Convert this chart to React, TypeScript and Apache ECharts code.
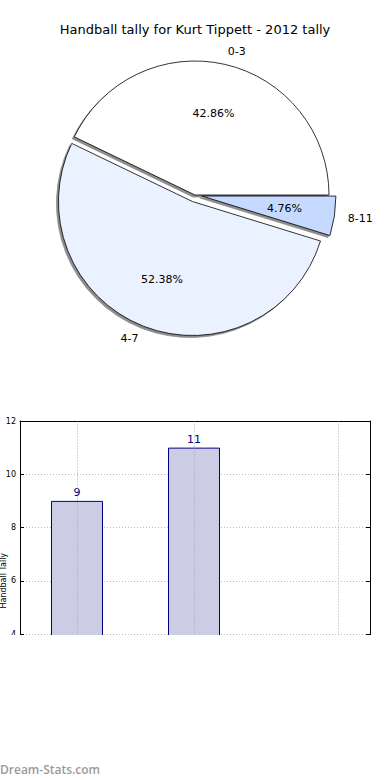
import React, { useEffect, useRef } from 'react';
import * as echarts from 'echarts';

const titleText = 'Handball tally for Kurt Tippett - 2012 tally';
const categories = ['0-3', '4-7', '8-11'];
const tallies = [9, 11, 1];
const sliceColors = ['#ffffff', '#eaf1ff', '#c6d9ff'];
const explodedSlices = [false, true, true];
const barPositions = [0, 1, 2];
const yMin = 0;
const yMax = 12;
const yInterval = 2;
const yVisibleFrom = 4;
const xGridTicks = [0, 1, 2.23];
const yAxisName = 'Handball Tally';
const watermark = 'Dream-Stats.com';

const PIE_R = 134;

export default function App() {
  const ref = useRef<HTMLDivElement>(null);
  useEffect(() => {
    if (!ref.current) return;
    const chart = echarts.init(ref.current, undefined, { renderer: 'svg' });
    const pieBase = {
      type: 'pie',
      center: [195, 195],
      startAngle: 0,
      clockwise: false,
      selectedMode: 'multiple',
      selectedOffset: 7,
      avoidLabelOverlap: false,
      silent: true,
      emphasis: { disabled: true },
    };
    const sliceData = (withColor: boolean) =>
      categories.map((c, i) => ({
        name: c,
        value: tallies[i],
        selected: explodedSlices[i],
        ...(withColor ? { itemStyle: { color: sliceColors[i] } } : {}),
      }));
    // plot area: visible part 421..634 covers values 4..12
    const unitPx = 213 / (yMax - yVisibleFrom);
    const gridHeight = unitPx * (yMax - yMin);
    const option: any = {
      animation: false,
      textStyle: { fontFamily: 'DejaVu Sans' },
      title: {
        text: titleText,
        left: 'center',
        top: 18,
        textStyle: { fontSize: 13, fontWeight: 'normal', color: '#000', fontFamily: 'DejaVu Sans' },
      },
      graphic: [
        {
          type: 'rect',
          z: 100,
          shape: { x: 0, y: 635, width: 390, height: 145 },
          style: { fill: '#fff' },
        },
        {
          type: 'text',
          z: 101,
          left: 0,
          top: 763,
          style: { text: watermark, fill: '#9a9a9a', font: '600 12px "Open Sans"' },
        },
      ],
      grid: { left: 20, right: 20, top: 421, height: gridHeight, outerBoundsMode: 'none', containLabel: false },
      xAxis: {
        type: 'value',
        min: -0.487,
        max: 2.504,
        position: 'top',
        axisLine: { show: true, onZero: false, lineStyle: { color: '#000', width: 1 } },
        axisTick: { show: false },
        axisLabel: { show: false },
        splitLine: { show: false },
      },
      yAxis: [
        {
          type: 'value',
          min: yMin,
          max: yMax,
          interval: yInterval,
          name: yAxisName,
          nameLocation: 'middle',
          nameGap: 13,
          nameMoveOverlap: false,
          nameTextStyle: { fontSize: 8, color: '#000' },
          axisLine: { show: true, onZero: false, lineStyle: { color: '#000', width: 1 } },
          axisTick: { show: true, inside: true, length: 4, lineStyle: { color: '#000' } },
          axisLabel: {
            fontSize: 8,
            color: '#000',
            margin: 4,
            formatter: (v: number) => (v >= yVisibleFrom ? String(v) : ''),
          },
          splitLine: { show: true, lineStyle: { type: [1, 2], color: '#bdbdbd', width: 1 } },
        },
        {
          type: 'value',
          min: yMin,
          max: yMax,
          interval: yInterval,
          position: 'right',
          axisLine: { show: true, onZero: false, lineStyle: { color: '#000', width: 1 } },
          axisTick: { show: true, inside: true, length: 4, lineStyle: { color: '#000' } },
          axisLabel: { show: false },
          splitLine: { show: false },
        },
      ],
      series: [
        {
          ...pieBase,
          radius: PIE_R,
          label: { show: false },
          labelLine: { show: false },
          itemStyle: {
            borderColor: '#000',
            borderWidth: 0.8,
            shadowColor: 'rgba(0,0,0,0.45)',
            shadowOffsetX: -2,
            shadowOffsetY: 2,
            shadowBlur: 1,
          },
          data: sliceData(true),
        },
        {
          ...pieBase,
          radius: [PIE_R * 0.2, PIE_R],
          itemStyle: { color: 'rgba(0,0,0,0)', borderWidth: 0 },
          label: { show: true, position: 'inside', formatter: '{d}%', fontSize: 11, color: '#000' },
          labelLine: { show: false },
          data: sliceData(false),
        },
        {
          ...pieBase,
          radius: PIE_R,
          itemStyle: { color: 'rgba(0,0,0,0)', borderWidth: 0 },
          label: {
            show: true,
            position: 'outside',
            formatter: '{b}',
            fontSize: 11,
            color: '#000',
            distanceToLabelLine: 0,
          },
          labelLine: { show: false, length: PIE_R * 0.1, length2: 0 },
          data: sliceData(false),
        },
        {
          type: 'bar',
          xAxisIndex: 0,
          yAxisIndex: 0,
          barWidth: 52,
          z: 3,
          itemStyle: { color: '#ccccE4', borderColor: '#000080', borderWidth: 1 },
          label: { show: true, position: 'top', color: '#000080', fontSize: 11, distance: 3 },
          data: barPositions.map((x, i) => ({
            value: [x, tallies[i]],
            label: { show: tallies[i] >= yVisibleFrom },
          })),
        },
        {
          type: 'line',
          xAxisIndex: 0,
          yAxisIndex: 0,
          data: [],
          z: 4,
          silent: true,
          markLine: {
            silent: true,
            symbol: 'none',
            label: { show: false },
            lineStyle: { type: [1, 2], color: '#a8a8a8', width: 1 },
            emphasis: { disabled: true },
            data: xGridTicks.map((x) => [
              { coord: [x, yMin] },
              { coord: [x, yMax] },
            ]),
          },
        },
      ],
    };
    chart.setOption(option);
    return () => chart.dispose();
  }, []);
  return (
    <div
      ref={ref}
      style={{ position: 'absolute', left: 0, top: 0, width: 390, height: 780, background: '#fff' }}
    />
  );
}
